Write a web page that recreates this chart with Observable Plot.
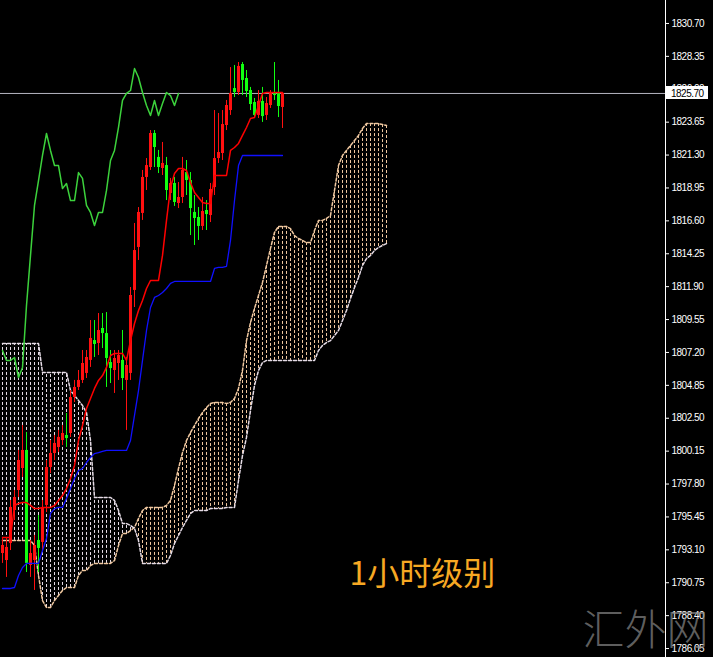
<!DOCTYPE html>
<html><head><meta charset="utf-8">
<script src="https://cdn.jsdelivr.net/npm/d3@7"></script>
<script src="https://cdn.jsdelivr.net/npm/@observablehq/plot@0.6"></script>
<style>
html,body{margin:0;padding:0;background:#000;}
#chart{width:713px;height:657px;}
g[aria-label="y-axis tick label"] text, g.price-axis text{letter-spacing:-0.5px;}
</style></head><body><div id="chart"></div>
<script>
// ---- candle data (1h bars, oldest first) ----
const open = [1792.84,1792.34,1793.55,1795.91,1797.34,1798.91,1800.20,1791.98,1792.34,1793.77,
1793.63,1796.27,1798.98,1799.98,1800.41,1800.91,1801.27,1801.41,1803.98,1804.70,
1805.20,1805.70,1806.63,1808.05,1807.84,1808.91,1808.55,1806.48,1805.91,1806.41,
1806.63,1805.20,1805.70,1811.63,1814.70,1817.13,1819.70,1820.41,1822.84,1821.13,
1820.34,1820.55,1818.55,1819.27,1817.84,1818.27,1820.05,1819.48,1817.20,1816.84,
1816.20,1817.34,1816.98,1818.98,1821.05,1821.41,1823.41,1824.48,1826.05,1825.77,
1827.77,1826.77,1825.91,1825.05,1824.13,1825.13,1824.13,1824.84,1825.70,1825.70,1824.70];
const high = [1793.98,1793.98,1796.63,1797.34,1800.20,1801.98,1801.48,1793.77,1794.13,1795.55,
1796.63,1799.48,1800.91,1801.27,1801.63,1801.98,1802.84,1804.48,1805.20,1805.91,
1807.34,1807.34,1809.48,1809.48,1809.98,1809.98,1810.05,1807.34,1807.34,1807.34,
1808.77,1806.84,1811.84,1816.41,1817.55,1820.20,1821.05,1823.05,1823.05,1821.63,
1822.20,1821.13,1819.63,1819.70,1819.34,1821.13,1820.91,1820.05,1818.41,1817.55,
1818.27,1818.05,1819.27,1824.48,1824.27,1824.48,1825.20,1827.55,1827.70,1827.91,
1827.91,1827.34,1826.13,1825.34,1825.91,1826.13,1825.41,1825.91,1827.91,1826.63,1825.77];
const low = [1792.13,1791.13,1793.05,1795.20,1796.84,1798.27,1791.48,1791.13,1790.20,1791.48,
1793.05,1795.77,1798.55,1799.48,1800.05,1800.55,1800.41,1801.13,1803.63,1804.48,
1804.98,1805.34,1806.13,1806.84,1806.98,1807.48,1804.70,1804.98,1804.27,1805.20,
1804.48,1801.63,1805.20,1810.41,1813.77,1816.63,1818.77,1820.20,1820.41,1819.98,
1819.84,1818.05,1818.05,1817.63,1817.48,1817.84,1818.41,1815.55,1814.84,1815.20,
1815.91,1815.91,1816.48,1818.41,1820.70,1820.91,1823.05,1824.13,1825.41,1825.55,
1825.55,1825.41,1824.48,1823.91,1823.91,1823.63,1823.77,1824.63,1825.20,1823.98,1823.20];
const close = [1793.41,1793.27,1796.13,1796.84,1799.48,1800.20,1792.13,1792.84,1793.41,1793.20,
1796.05,1798.98,1799.98,1800.70,1801.13,1801.41,1801.05,1803.98,1804.70,1805.20,
1806.41,1806.84,1808.20,1807.77,1808.77,1808.55,1806.77,1806.05,1806.77,1806.98,
1805.34,1806.27,1811.27,1814.48,1817.20,1819.70,1820.55,1822.84,1821.84,1820.41,
1820.70,1818.77,1819.27,1817.91,1818.27,1820.20,1819.48,1817.48,1816.77,1816.20,
1817.27,1817.05,1818.84,1821.05,1821.48,1823.48,1824.84,1825.70,1825.77,1827.63,
1826.63,1825.84,1824.91,1824.13,1825.13,1824.05,1824.98,1825.70,1825.55,1824.77,1825.70];

// ---- Ichimoku lines ----
const tenkan = [1793.98,1793.98,1793.98,1796.27,1796.41,1796.48,1796.48,1796.27,1796.05,1796.05,
1796.13,1796.13,1796.13,1796.27,1796.63,1796.98,1797.48,1798.20,1799.13,1800.91,
1801.98,1803.20,1803.91,1804.63,1805.20,1805.55,1806.13,1806.98,1807.13,1807.13,
1807.13,1806.63,1808.05,1809.27,1810.20,1810.91,1811.77,1812.34,1812.34,1812.34,
1814.13,1816.63,1818.98,1819.98,1820.34,1820.34,1820.20,1819.34,1818.63,1818.27,
1817.91,1817.84,1817.84,1819.84,1819.84,1819.84,1819.84,1821.63,1821.84,1822.13,
1822.70,1823.27,1823.91,1823.98,1824.84,1825.70,1825.77,1825.77,1825.77,1825.77,1825.77];
const kijun = [1790.34,1790.34,1790.34,1790.41,1791.27,1791.84,1792.13,1792.13,1792.13,1792.13,
1793.05,1793.91,1795.70,1796.05,1796.13,1796.13,1796.77,1797.48,1798.20,1798.77,
1798.91,1799.34,1799.70,1799.98,1800.05,1800.13,1800.20,1800.20,1800.20,1800.20,
1800.20,1800.20,1800.91,1802.70,1804.48,1806.63,1808.77,1810.41,1811.13,1811.27,
1811.48,1811.77,1812.13,1812.27,1812.27,1812.27,1812.27,1812.27,1812.27,1812.27,
1812.27,1812.27,1812.27,1813.20,1813.27,1813.27,1813.34,1815.20,1818.05,1820.55,
1821.27,1821.27,1821.27,1821.27,1821.27,1821.27,1821.27,1821.27,1821.27,1821.27,1821.27];
const chikou = [1807.34,1806.63,1806.63,1806.84,1805.41,1806.13,1810.55,1814.13,1817.70,1819.48,
1821.27,1822.84,1821.63,1820.55,1820.55,1818.91,1819.27,1818.05,1818.05,1820.05,
1819.63,1817.70,1817.20,1816.27,1817.20,1817.20,1818.77,1820.91,1821.63,1823.27,
1825.20,1825.70,1825.91,1827.48,1826.84,1825.77,1824.84,1824.13,1825.20,1824.13,
1824.98,1825.77,1825.55,1824.84,1825.70];
const spanA = [1793.77,1793.77,1793.77,1793.77,1793.77,1793.77,1793.77,1793.77,1793.41,1791.27,
1789.48,1788.98,1788.98,1789.48,1789.84,1790.20,1790.41,1790.41,1790.41,1791.27,
1791.63,1791.63,1791.98,1792.13,1792.13,1792.13,1792.13,1792.13,1792.34,1793.41,
1794.27,1794.27,1794.48,1794.70,1795.34,1795.91,1796.13,1796.13,1796.13,1796.13,
1796.13,1796.27,1796.63,1797.70,1798.91,1800.05,1800.91,1801.48,1801.98,1802.48,
1802.91,1803.27,1803.55,1803.63,1803.63,1803.63,1803.55,1803.63,1803.91,1804.63,
1805.91,1808.05,1809.34,1810.34,1811.27,1812.20,1813.41,1814.63,1815.77,1816.20,
1816.20,1816.20,1816.05,1815.55,1815.34,1815.20,1815.05,1815.05,1815.91,1816.63,
1816.63,1816.77,1816.98,1818.77,1820.55,1821.27,1821.63,1821.98,1822.34,1822.70,
1823.20,1823.55,1823.55,1823.55,1823.55,1823.48,1823.41];
const spanB = [1807.84,1807.84,1807.84,1807.84,1807.84,1807.84,1807.84,1807.84,1807.84,1807.84,
1805.77,1805.77,1805.77,1805.77,1805.77,1805.77,1805.77,1804.48,1804.13,1803.77,
1803.41,1802.91,1800.91,1796.84,1796.84,1796.84,1796.84,1796.84,1796.63,1795.91,
1794.98,1794.98,1794.84,1794.63,1793.77,1792.13,1792.13,1792.13,1792.13,1792.13,
1792.13,1792.13,1792.70,1793.55,1794.13,1794.70,1795.20,1795.70,1795.91,1795.91,
1795.91,1795.91,1796.05,1796.05,1796.05,1796.05,1796.13,1796.13,1796.13,1798.05,
1799.84,1801.13,1803.05,1804.84,1805.91,1806.48,1806.63,1806.63,1806.63,1806.63,
1806.63,1806.63,1806.63,1806.63,1806.63,1806.63,1806.63,1806.63,1806.63,1807.34,
1807.70,1807.91,1808.05,1808.41,1808.77,1809.48,1810.20,1811.05,1811.84,1812.55,
1813.41,1813.91,1814.13,1814.48,1814.70,1814.84,1814.98];

// ---- axis ticks and labels ----
const yTicks = [1786.05,1788.40,1790.75,1793.10,1795.45,1797.80,1800.15,1802.50,1804.85,1807.20,
1809.55,1811.90,1814.25,1816.60,1818.95,1821.30,1823.65,1826.00,1828.35,1830.70];
const lastPrice = 1825.70;
const chartLabel = "1小时级别";
const watermark = "汇外网";

const bars = open.map((o, i) => ({i, o, h: high[i], l: low[i], c: close[i], up: close[i] > open[i]}));
const cloud = spanA.map((a, i) => ({i, a, b: spanB[i]}));
const xDomain = [-0.5, 165.75];
const UP = "#ff1010", DOWN = "#10ff10";
const PEACH = "#f0c8a0", THISTLE = "#e6dce6";
const fmt = d => d.toFixed(2);

function priceBox(index, scales, values, dims) {
  const y = Math.round(scales.y(lastPrice));
  const x0 = dims.width - dims.marginRight;
  const g = d3.create("svg:g").attr("class", "price-axis");
  g.append("rect").attr("x", x0 + 1).attr("y", y - 7).attr("width", 42).attr("height", 13).attr("fill", "#fff");
  g.append("text").attr("x", x0 + 6).attr("y", y).attr("dy", "0.35em").attr("fill", "#000")
    .attr("text-anchor", "start").attr("font-size", 10).text(fmt(lastPrice));
  return g.node();
}

const hasAxisMark = typeof Plot.axisY === "function";
const axisOpts = {anchor: "right", tickFormat: fmt, tickSize: 3, tickPadding: 3, label: null};

const chart = Plot.plot({
  width: 713, height: 657,
  marginLeft: 0, marginRight: 48, marginTop: 0, marginBottom: 0,
  style: {background: "#000", color: "#fff", fontSize: "10px",
          fontFamily: "'Liberation Sans',Arial,sans-serif"},
  x: {domain: xDomain, axis: null},
  y: hasAxisMark
    ? {domain: [1785.41, 1832.34], axis: null}
    : {domain: [1785.41, 1832.34], axis: "right", ticks: yTicks, ...axisOpts},
  color: {type: "identity"},
  marks: [
    Plot.ruleX(cloud, {x: "i", y1: "a", y2: "b", stroke: d => d.a >= d.b ? PEACH : THISTLE, strokeDasharray: "3,2"}),
    Plot.line(cloud, {x: "i", y: "a", stroke: PEACH, strokeDasharray: "3,2"}),
    Plot.line(cloud, {x: "i", y: "b", stroke: THISTLE, strokeDasharray: "3,2"}),
    Plot.ruleY([lastPrice], {stroke: "#b4b4c0"}),
    Plot.line(chikou, {x: (d, i) => i, y: d => d, stroke: "#3cd23c"}),
    Plot.ruleX(bars, {x: "i", y1: "l", y2: "h", stroke: d => d.up ? UP : DOWN}),
    Plot.ruleX(bars, {x: "i", y1: "o", y2: "c", stroke: d => d.up ? UP : DOWN, strokeWidth: 3}),
    Plot.line(tenkan, {x: (d, i) => i, y: d => d, stroke: "#ff0000"}),
    Plot.line(kijun, {x: (d, i) => i, y: d => d, stroke: "#1010ff", strokeWidth: 1.3}),
    hasAxisMark ? Plot.axisY(yTicks, {...axisOpts, stroke: "#fff", fill: "#fff"}) : null,
    Plot.ruleX([xDomain[1]], {stroke: "#fff"}),
    Plot.text([chartLabel], {text: d => d, frameAnchor: "top-left", dx: 349, dy: 562, textAnchor: "start",
      fill: "#f7a823", fontSize: 32, fontFamily: "'Noto Sans CJK SC',sans-serif"}),
    Plot.text([watermark], {text: d => d, frameAnchor: "top-left", dx: 645, dy: 615, textAnchor: "middle",
      fill: "#8a8a8a", fillOpacity: 0.7, fontSize: 42, fontWeight: 300, fontFamily: "'Noto Sans CJK SC',sans-serif"}),
    priceBox
  ]
});
document.getElementById("chart").appendChild(chart);
</script></body></html>
